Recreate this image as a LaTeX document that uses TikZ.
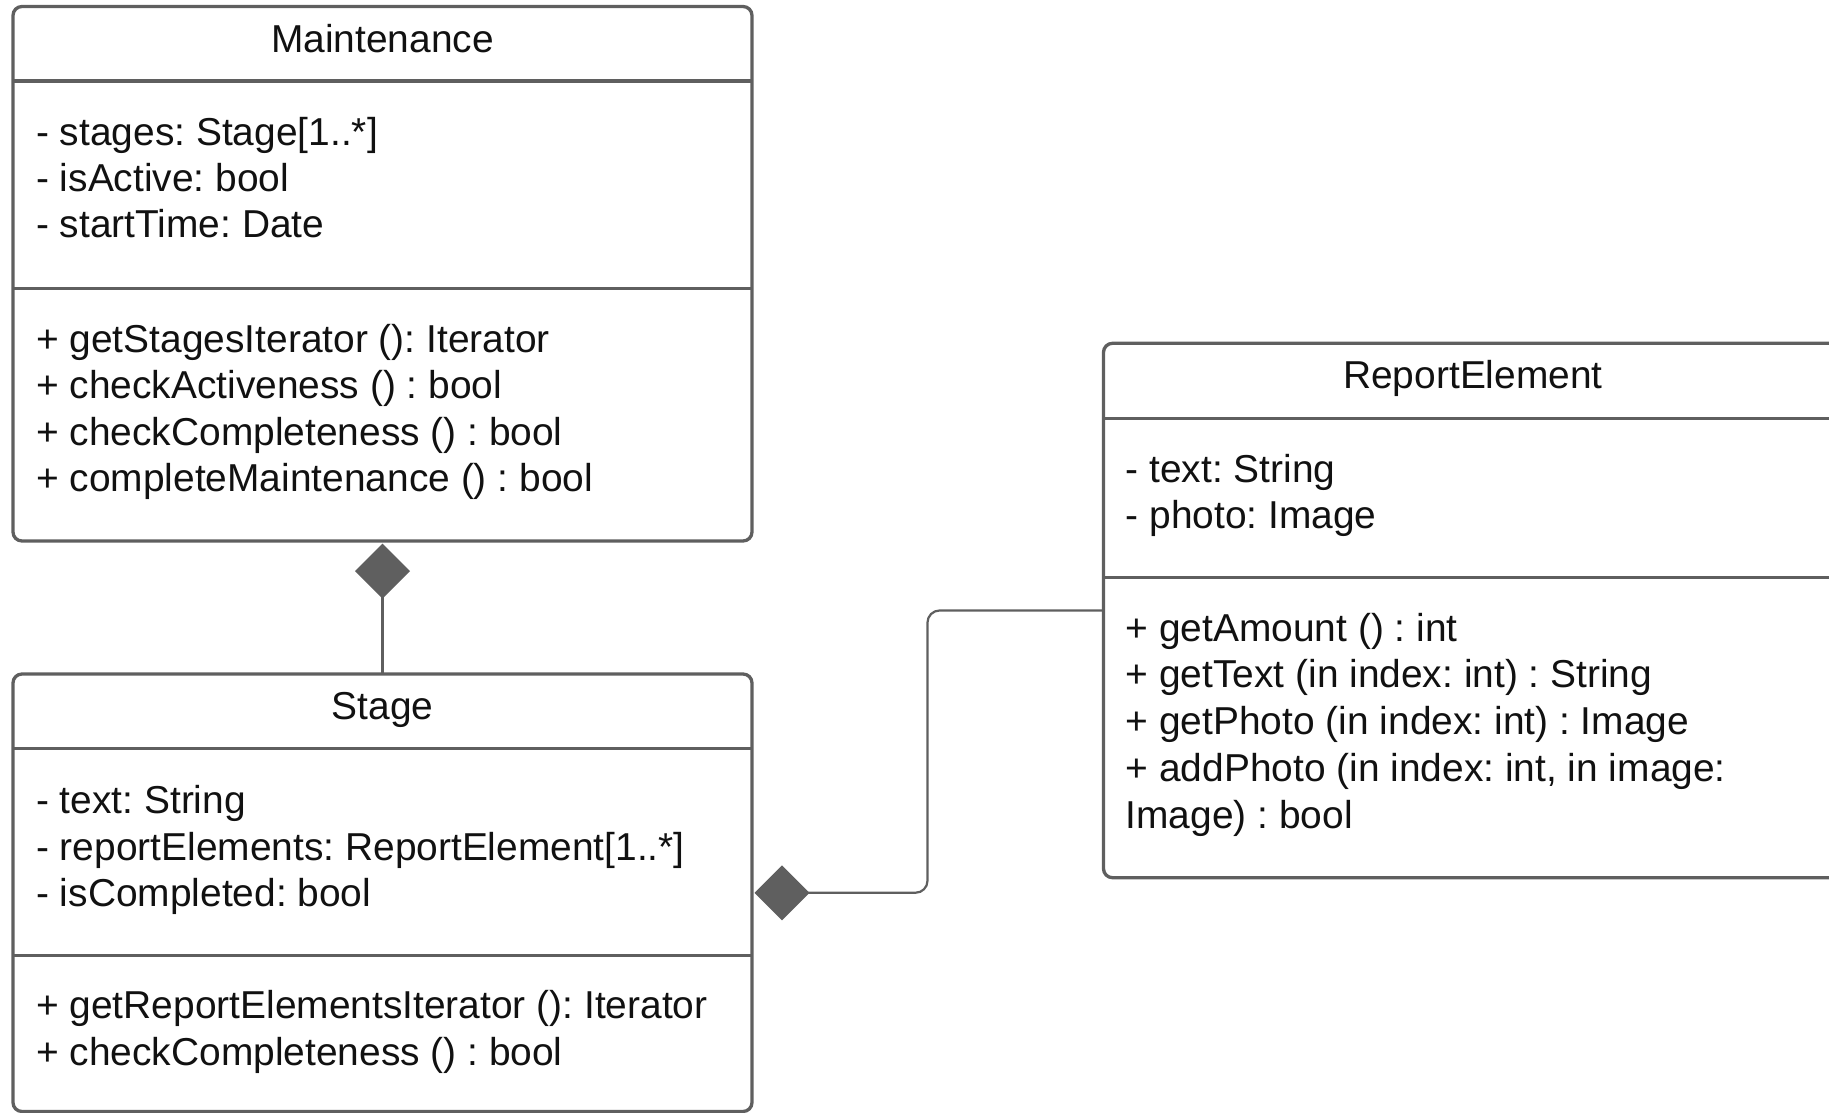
\documentclass[tikz,border=0pt]{standalone}
\usepackage{fontspec}
\setmainfont{Liberation Sans}
\usetikzlibrary{arrows.meta}
\definecolor{lc}{HTML}{5F5F5F}
\definecolor{tc}{HTML}{111111}
\frenchspacing
\begin{document}
\begin{tikzpicture}[x=1pt,y=-1pt,
  classbox/.style={draw=lc, line width=3.3pt, rounded corners=9pt, rectangle,
    minimum width=739pt, inner sep=0pt, outer sep=0pt},
  sepline/.style={draw=lc, line width=3.3pt},
  member/.style={anchor=base west, inner sep=0pt, text=tc,
    font=\fontsize{38.9}{46.5}\selectfont\frenchspacing},
  ctitle/.style={anchor=base, inner sep=0pt, text=tc,
    font=\fontsize{38.9}{46.5}\selectfont\frenchspacing},
  conn/.style={draw=lc, line width=2.2pt},
  comp/.style={-{Diamond[length=55pt 0 0, width=55pt 0 0, fill=lc, color=lc]}, shorten >=2.5pt}
]
\useasboundingbox (0,0) rectangle (1829,1112);

% class boxes
\node[classbox, minimum height=534.5pt] (maint) at (382.5,273.75) {};
\node[classbox, minimum height=437.5pt] (stage) at (382.5,892.75) {};
\node[classbox, minimum height=534.4pt] (re) at (1473,610.5) {};

% compartment separators
\draw[sepline] (maint.west |- 0,81) -- (maint.east |- 0,81);
\draw[sepline] (maint.west |- 0,288.5) -- (maint.east |- 0,288.5);
\draw[sepline] (stage.west |- 0,748.5) -- (stage.east |- 0,748.5);
\draw[sepline] (stage.west |- 0,955.8) -- (stage.east |- 0,955.8);
\draw[sepline] (re.west |- 0,418.2) -- (re.east |- 0,418.2);
\draw[sepline] (re.west |- 0,577.5) -- (re.east |- 0,577.5);

% Maintenance
\node[ctitle] (mt) at (382.5,52) {Maintenance};
\node[member] (ma1) at (36,145.7) {- stages: Stage[1..*]};
\node[member] (ma2) at (36,191.7) {- isActive: bool};
\node[member] (ma3) at (36,237.7) {- startTime: Date};
\node[member] (mm1) at (36,352) {+ getStagesIterator (): Iterator};
\node[member] (mm2) at (36,398.5) {+ checkActiveness () : bool};
\node[member] (mm3) at (36,445) {+ checkCompleteness () : bool};
\node[member] (mm4) at (36,491.5) {+ completeMaintenance () : bool};

% Stage
\node[ctitle] (st) at (382.5,719) {Stage};
\node[member] (sa1) at (36,813) {- text: String};
\node[member] (sa2) at (36,860) {- reportElements: ReportElement[1..*]};
\node[member] (sa3) at (36,906.5) {- isCompleted: bool};
\node[member] (sm1) at (36,1018) {+ getReportElementsIterator (): Iterator};
\node[member] (sm2) at (36,1065) {+ checkCompleteness () : bool};

% ReportElement
\node[ctitle] (rt) at (1473,388) {ReportElement};
\node[member] (ra1) at (1125.5,482) {- text: String};
\node[member] (ra2) at (1125.5,528.5) {- photo: Image};
\node[member] (rm1) at (1125.5,641) {+ getAmount () : int};
\node[member] (rm2) at (1125.5,687.5) {+ getText (in index: int) : String};
\node[member] (rm3) at (1125.5,734.5) {+ getPhoto (in index: int) : Image};
\node[member] (rm4) at (1125.5,781) {+ addPhoto (in index: int, in image:};
\node[member] (rm5) at (1125.5,828) {Image) : bool};

% connectors
\coordinate (bend) at (927.5,0);
\draw[conn, comp] (stage.north) -- (maint.south);
\draw[conn, comp, rounded corners=12pt] (re.west) -- (re.west -| bend) -- (stage.east -| bend) -- (stage.east);
\end{tikzpicture}
\end{document}
